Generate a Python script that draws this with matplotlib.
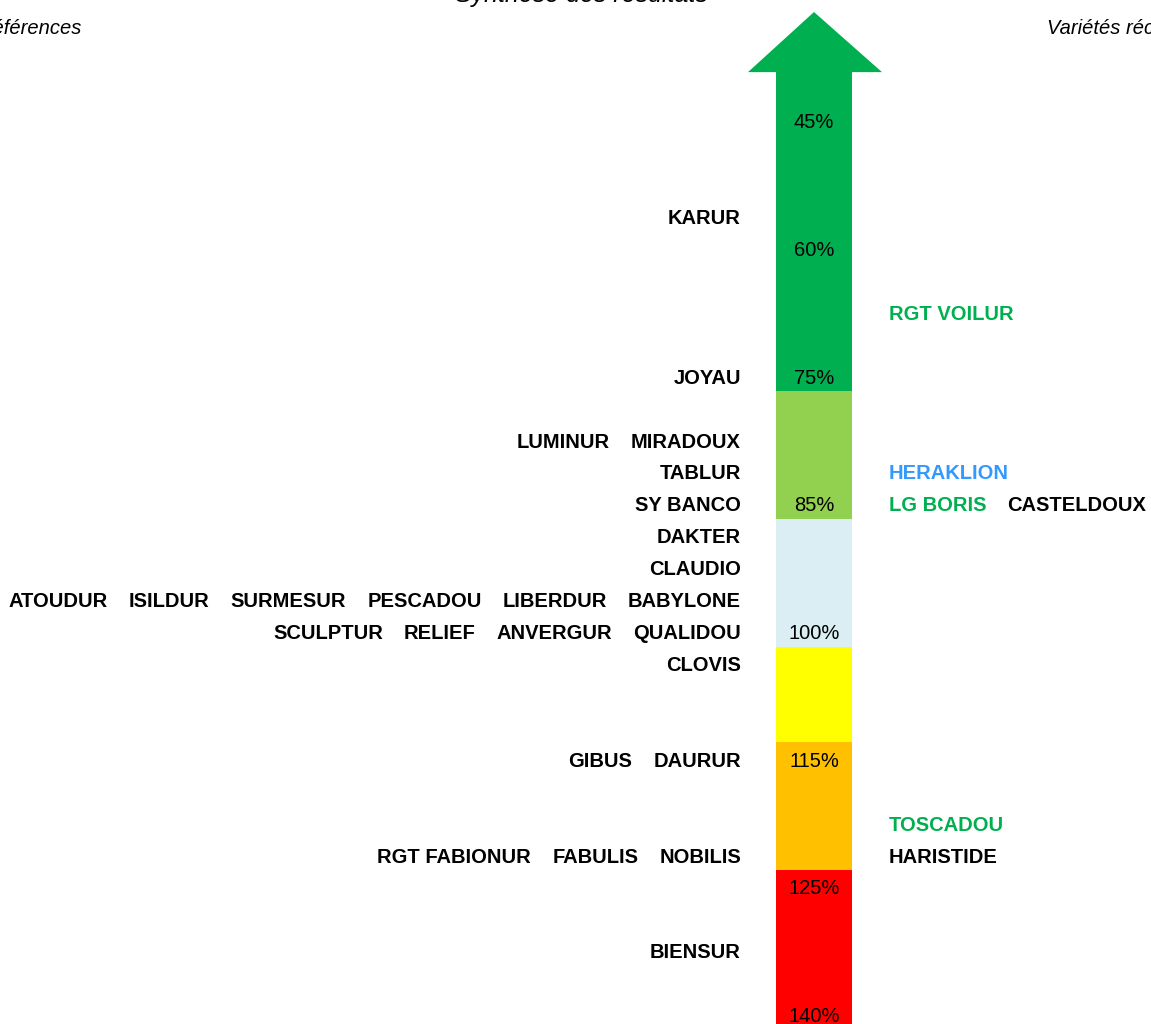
import matplotlib
matplotlib.use("Agg")
import matplotlib.pyplot as plt
from matplotlib.patches import Polygon, Rectangle

plt.rcParams['font.family'] = ['Liberation Sans', 'DejaVu Sans']

# échelle (lignes du tableau) et pourcentages affichés dans la flèche
pct_rows = [0, 4, 8, 12, 16, 20, 24, 28]
pct_values = [45, 60, 75, 85, 100, 115, 125, 140]

# bandes de couleur (limites en lignes)
band_edges = [-1.5, 8.5, 12.5, 16.5, 19.5, 23.5, 29]
band_colors = ['#00B050', '#92D050', '#DAEEF3', '#FFFF00', '#FFC000', '#FF0000']

# variétés de référence (à gauche)
ref_rows = [3, 8, 10, 11, 12, 13, 14, 15, 16, 17, 20, 23, 26]
ref_names = [
    ['KARUR'],
    ['JOYAU'],
    ['LUMINUR', 'MIRADOUX'],
    ['TABLUR'],
    ['SY BANCO'],
    ['DAKTER'],
    ['CLAUDIO'],
    ['ATOUDUR', 'ISILDUR', 'SURMESUR', 'PESCADOU', 'LIBERDUR', 'BABYLONE'],
    ['SCULPTUR', 'RELIEF', 'ANVERGUR', 'QUALIDOU'],
    ['CLOVIS'],
    ['GIBUS', 'DAURUR'],
    ['RGT FABIONUR', 'FABULIS', 'NOBILIS'],
    ['BIENSUR'],
]

# variétés récentes (à droite)
new_rows = [6, 11, 12, 22, 23]
new_names = [
    ['RGT VOILUR'],
    ['HERAKLION'],
    ['LG BORIS', 'CASTELDOUX'],
    ['TOSCADOU'],
    ['HARISTIDE'],
]
new_colors = [
    ['#00B050'],
    ['#3399FF'],
    ['#00B050', 'black'],
    ['#00B050'],
    ['black'],
]

W, H = 1151, 1024
row0, row_h = 120, 31.92
dy = 0.09  # petit décalage vertical des textes

fig = plt.figure(figsize=(W / 100, H / 100), dpi=100)
ax = fig.add_axes([0, 0, 1, 1])
ax.set_xlim(0, W)
ax.set_ylim((H - row0) / row_h, -row0 / row_h)
ax.axis('off')

bar_left, bar_right = 776, 852
bar_mid = (bar_left + bar_right) / 2

# bandes de la flèche
for top, bottom, c in zip(band_edges[:-1], band_edges[1:], band_colors):
    ax.add_patch(Rectangle((bar_left, top), bar_right - bar_left, bottom - top,
                           facecolor=c, edgecolor='none'))

# pointe de la flèche
tip = (12 - row0) / row_h
ax.add_patch(Polygon([(748, band_edges[0]), (882, band_edges[0]), (bar_mid, tip)],
                     closed=True, facecolor=band_colors[0], edgecolor='none'))

fs = 14.5
for r, v in zip(pct_rows, pct_values):
    ax.text(bar_mid, r + dy, f'{v}%', ha='center', va='center', fontsize=fs, color='black')

gap = 21

# références : alignées à droite
for r, names in zip(ref_rows, ref_names):
    t = ax.text(741, r + dy, names[-1], ha='right', va='center', fontsize=fs,
                fontweight='bold', color='black')
    for n in reversed(names[:-1]):
        t = ax.annotate(n, xy=(0, 0.5), xycoords=t, xytext=(-gap, 0),
                        textcoords='offset pixels', ha='right', va='center',
                        fontsize=fs, fontweight='bold', color='black')

# variétés récentes : alignées à gauche
for r, names, cols in zip(new_rows, new_names, new_colors):
    t = ax.text(889, r + dy, names[0], ha='left', va='center', fontsize=fs,
                fontweight='bold', color=cols[0])
    for n, c in zip(names[1:], cols[1:]):
        t = ax.annotate(n, xy=(1, 0.5), xycoords=t, xytext=(gap, 0),
                        textcoords='offset pixels', ha='left', va='center',
                        fontsize=fs, fontweight='bold', color=c)

# en-têtes (coupés par le cadre, comme dans l'original)
head_row = (28 - row0) / row_h
ax.text(82, head_row, 'Références', ha='right', va='center', fontsize=fs,
        style='italic', color='black')
ax.text(1047, head_row, 'Variétés récentes', ha='left', va='center', fontsize=fs,
        style='italic', color='black')
ax.text(455, (2 - row0) / row_h, 'Synthèse des résultats', ha='left', va='baseline',
        fontsize=18, style='italic', color='black')

fig.savefig('out.png', dpi=100)
